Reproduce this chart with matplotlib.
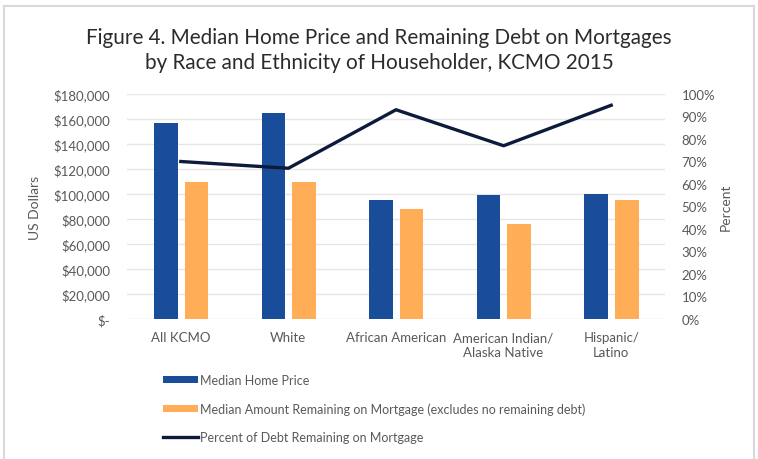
import matplotlib
matplotlib.use("Agg")
import matplotlib.pyplot as plt
from matplotlib.lines import Line2D
from matplotlib.patches import Patch
import numpy as np

categories = ["All KCMO", "White", "African American", "American Indian/\nAlaska Native", "Hispanic/\nLatino"]
home_price = [157000, 165000, 95000, 99000, 100000]
remaining = [110000, 110000, 88000, 76000, 95000]
pct_remaining = [70, 67, 93, 77, 95]

left_ticks = [0, 20000, 40000, 60000, 80000, 100000, 120000, 140000, 160000, 180000]
right_ticks = [0, 10, 20, 30, 40, 50, 60, 70, 80, 90, 100]

BLUE = "#194C99"
ORANGE = "#FFAD57"
NAVY = "#0E1A3C"
TXT = "#595959"

plt.rcParams['font.family'] = ['Lato', 'DejaVu Sans']

fig = plt.figure(figsize=(7.58, 4.6), dpi=100)
ax = fig.add_axes([127/758, 1-320/460, (665-127)/758, (320-95)/460])
x = np.arange(len(categories))
w = 0.22
ax.bar(x - 0.14, home_price, w, color=BLUE, zorder=3)
ax.bar(x + 0.145, remaining, w, color=ORANGE, zorder=3)
ax.set_xlim(-0.5, len(categories) - 0.5)
ax.set_ylim(0, 180000)
ax.set_yticks(left_ticks)
ax.set_yticklabels(["$-"] + [f"${v:,.0f}" for v in left_ticks[1:]])
ax.set_xticks(x)
ax.set_xticklabels(categories, linespacing=1.3)
ax.grid(axis='y', color='#e6e6e6', linewidth=1, zorder=0)
for s in ax.spines.values():
    s.set_visible(False)
ax.tick_params(axis='both', length=0, labelsize=9.5, colors=TXT)
ax.tick_params(axis='x', pad=9)
ax.tick_params(axis='y', pad=12)
ax.set_ylabel("US Dollars", fontsize=10, color=TXT, labelpad=9)

ax2 = ax.twinx()
ax2.plot(x, pct_remaining, color=NAVY, linewidth=2.4, zorder=4)
ax2.set_ylim(0, 100)
ax2.set_yticks(right_ticks)
ax2.set_yticklabels([f"{v}%" for v in right_ticks])
for s in ax2.spines.values():
    s.set_visible(False)
ax2.tick_params(axis='y', length=0, labelsize=9.5, colors=TXT, pad=12)
ax2.set_ylabel("Percent", fontsize=10, color=TXT, labelpad=3)

fig.text(0.5, 1-38/460, "Figure 4. Median Home Price and Remaining Debt on Mortgages",
         ha='center', va='center', fontsize=14.9, color='#2b2b2b')
fig.text(0.5, 1-63/460, "by Race and Ethnicity of Householder, KCMO 2015",
         ha='center', va='center', fontsize=14.9, color='#2b2b2b')

handles = [Patch(facecolor=BLUE), Patch(facecolor=ORANGE), Line2D([0], [0], color=NAVY, linewidth=2.4)]
labels = ["Median Home Price",
          "Median Amount Remaining on Mortgage (excludes no remaining debt)",
          "Percent of Debt Remaining on Mortgage"]
leg = fig.legend(handles, labels, loc='upper left', bbox_to_anchor=(163/758, 1-375/460),
                 frameon=False, fontsize=9, handlelength=2.8, handleheight=0.5,
                 handletextpad=0.15, labelspacing=1.3, borderaxespad=0, borderpad=0)
for t in leg.get_texts():
    t.set_color(TXT)

# outer border
bc = "#d9d9d9"
fig.add_artist(Line2D([4/758, 4/758], [0, 1-7/460], color=bc, linewidth=1.5, transform=fig.transFigure))
fig.add_artist(Line2D([754/758, 754/758], [0, 1-7/460], color=bc, linewidth=1.5, transform=fig.transFigure))
fig.add_artist(Line2D([4/758, 754/758], [1-7/460, 1-7/460], color=bc, linewidth=1.5, transform=fig.transFigure))

fig.savefig("out.png", dpi=100)
